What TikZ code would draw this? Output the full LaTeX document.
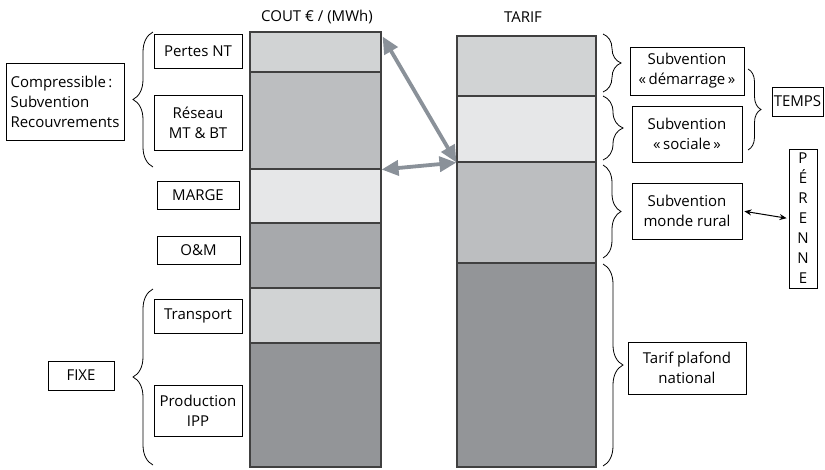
\documentclass[tikz,border=0pt]{standalone}
\usepackage{fontspec}
\setmainfont{Open Sans}
\usetikzlibrary{arrows.meta,calc,decorations.pathreplacing}
\definecolor{segA}{HTML}{D1D3D4}
\definecolor{segB}{HTML}{BCBEC0}
\definecolor{segC}{HTML}{E6E7E8}
\definecolor{segD}{HTML}{A7A9AC}
\definecolor{segE}{HTML}{939598}
\definecolor{arrgray}{HTML}{8A9199}
\tikzset{
  cout/.style={x=1pt, y=-1pt, font=\fontsize{15}{20}\selectfont},
  c box/.style={draw, line width=0.9pt, align=center, inner sep=0pt},
  c seg/.style={draw=black!75, line width=1.1pt, inner sep=0pt},
  c brace/.style={decorate, decoration={brace, amplitude=#1}, line width=0.8pt},
  c brace/.default=18pt,
  c garr/.style={{Triangle[length=17pt,width=15pt]}-{Triangle[length=17pt,width=15pt]},
                 line width=3.8pt, draw=arrgray},
  c arr/.style={{Stealth[length=7pt,width=6pt]}-{Stealth[length=7pt,width=6pt]}, line width=1pt},
  c title/.style={font=\fontsize{15}{17}\selectfont},
}
\begin{document}
\begin{tikzpicture}[cout]
\useasboundingbox (0,0) rectangle (825,469);
% ---- titles ----
\node[c title] (tcout) at (317,17) {COUT € / (MWh)};
\node[c title] (ttarif) at (523,17) {TARIF};
% ---- colonne COUT ----
\node[c seg, fill=segA, minimum width=131pt, minimum height=40pt]  (c1) at (315.5,52) {};
\node[c seg, fill=segB, minimum width=131pt, minimum height=97pt]  (c2) at (315.5,120.5) {};
\node[c seg, fill=segC, minimum width=131pt, minimum height=54pt]  (c3) at (315.5,196) {};
\node[c seg, fill=segD, minimum width=131pt, minimum height=65pt]  (c4) at (315.5,255.5) {};
\node[c seg, fill=segA, minimum width=131pt, minimum height=55pt]  (c5) at (315.5,315.5) {};
\node[c seg, fill=segE, minimum width=131pt, minimum height=124pt] (c6) at (315.5,405) {};
% ---- colonne TARIF ----
\node[c seg, fill=segA, minimum width=139pt, minimum height=60pt]  (t1) at (526.5,66) {};
\node[c seg, fill=segC, minimum width=139pt, minimum height=66pt]  (t2) at (526.5,129) {};
\node[c seg, fill=segB, minimum width=139pt, minimum height=101pt] (t3) at (526.5,212.5) {};
\node[c seg, fill=segE, minimum width=139pt, minimum height=204pt] (t4) at (526.5,365) {};
% ---- postes de cout ----
\node[c box, minimum width=88pt, minimum height=34pt] (pertes) at (198,51) {Pertes NT};
\node[c box, minimum width=88pt, minimum height=55pt] (reseau) at (198,122.5) {Réseau\\MT \& BT};
\node[c box, minimum width=82pt, minimum height=28pt] (marge) at (198,195) {MARGE};
\node[c box, minimum width=83pt, minimum height=28pt] (om) at (198.5,250) {O\&M};
\node[c box, minimum width=88pt, minimum height=34pt] (transport) at (198,316) {Transport};
\node[c box, minimum width=88pt, minimum height=51pt] (prod) at (198,410.5) {Production\\IPP};
\node[c box, align=left, minimum width=118pt, minimum height=77pt] (compr) at (65,101.5)
  {Compressible\,:\\Subvention\\Recouvrements};
\node[c box, minimum width=66pt, minimum height=29pt] (fixe) at (81,375.5) {FIXE};
\draw[c brace=20pt] (153,167) -- (153,32);
\draw[c brace=20pt] (153,465) -- (153,289);
% ---- tarif ----
\node[c box, minimum width=114pt, minimum height=48pt] (demarr) at (687,71) {Subvention\\«\,démarrage\,»};
\node[c box, minimum width=110pt, minimum height=56pt] (sociale) at (687,134) {Subvention\\«\,sociale\,»};
\node[c box, minimum width=110pt, minimum height=56pt] (rural) at (687,211) {Subvention\\monde rural};
\node[c box, minimum width=118pt, minimum height=52pt] (plafond) at (687,368) {Tarif plafond\\national};
\node[c box, minimum width=51pt, minimum height=29pt] (temps) at (797.5,101.5) {TEMPS};
\node[c box, minimum width=28pt, minimum height=139pt] (perenne) at (803,218.5) {P\\É\\R\\E\\N\\N\\E};
\draw[c brace] (603,34) -- (603,92);
\draw[c brace=20pt] (603,96) -- (603,160);
\draw[c brace] (603,165) -- (603,258);
\draw[c brace=20pt] (603,264) -- (603,466);
\draw[c brace=13pt] (748,69) -- (748,150);
% ---- liens ----
\draw[c garr] ($(c1.north east)+(1,5)$) -- (t2.south west);
\draw[c garr] (c2.south east) -- (t2.south west);
\draw[c arr, shorten <=2pt, shorten >=2pt] (rural.east) -- (perenne.west);
\end{tikzpicture}
\end{document}
